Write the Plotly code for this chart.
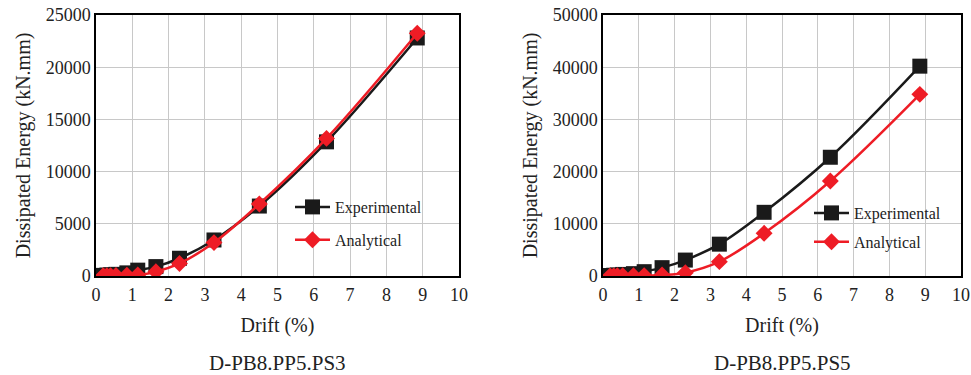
import plotly.graph_objects as go

drift = [0.2, 0.3, 0.4, 0.55, 0.85, 1.15, 1.65, 2.3, 3.25, 4.5, 6.35, 8.85]

exp_ps3 = [60, 90, 120, 160, 300, 560, 900, 1700, 3450, 6700, 12850, 22800]
ana_ps3 = [20, 30, 40, 50, 70, 100, 410, 1200, 3200, 6900, 13180, 23250]

exp_ps5 = [100, 150, 200, 300, 450, 830, 1600, 3050, 6100, 12200, 22750, 40200]
ana_ps5 = [20, 30, 40, 50, 60, 80, 200, 640, 2750, 8180, 18200, 34800]

x_ticks = list(range(0, 11))
titles = ["D-PB8.PP5.PS3", "D-PB8.PP5.PS5"]

FONT = "Times New Roman"
BLACK = "#1a1a1a"
RED = "#ee1c25"

fig = go.Figure()

def add_pair(xa, ya, exp, ana, legend):
    fig.add_trace(go.Scatter(
        x=drift, y=exp, xaxis=xa, yaxis=ya, name="Experimental", legend=legend,
        legendgroup=legend + "e",
        mode="lines+markers", line=dict(color=BLACK, width=2.5, shape="spline"),
        marker=dict(symbol="square", size=15, color=BLACK)))
    fig.add_trace(go.Scatter(
        x=drift, y=ana, xaxis=xa, yaxis=ya, name="Analytical", legend=legend,
        legendgroup=legend + "a",
        mode="lines+markers", line=dict(color=RED, width=2.5, shape="spline"),
        marker=dict(symbol="diamond", size=13, color=RED)))

add_pair("x", "y", exp_ps3, ana_ps3, "legend")
add_pair("x2", "y2", exp_ps5, ana_ps5, "legend2")

axis_common = dict(showline=True, linecolor="black", linewidth=1.5, mirror=True,
                   showgrid=True, gridcolor="#c8c8c8", gridwidth=1.2, zeroline=False,
                   ticks="", automargin=False, tickformat="d",
                   tickfont=dict(family=FONT, size=18, color="#222"),
                   title_font=dict(family=FONT, size=20, color="#222"))

fig.update_layout(
    width=971, height=375, margin=dict(l=0, r=0, t=0, b=0),
    font=dict(family=FONT),
    paper_bgcolor="white", plot_bgcolor="white", showlegend=True,
    xaxis=dict(domain=[96/971, 459/971], range=[0, 10], tickvals=x_ticks, anchor="y",
               title=dict(text="Drift (%)", standoff=14), ticklabelstandoff=2, **axis_common),
    yaxis=dict(domain=[1-276/375, 1-15/375], range=[0, 25000], dtick=5000, anchor="x",
               title=dict(text="Dissipated Energy (kN.mm)", standoff=10), **axis_common),
    xaxis2=dict(domain=[603/971, 961/971], range=[0, 10], tickvals=x_ticks, anchor="y2",
                title=dict(text="Drift (%)", standoff=14), ticklabelstandoff=2, **axis_common),
    yaxis2=dict(domain=[1-276/375, 1-15/375], range=[0, 50000], dtick=10000, anchor="x2",
                title=dict(text="Dissipated Energy (kN.mm)", standoff=10), **axis_common),
    legend=dict(x=290/971, y=1-190/375, xanchor="left", yanchor="top",
                bgcolor="rgba(255,255,255,0)", font=dict(family=FONT, size=16, color="#222"),
                tracegroupgap=9, itemwidth=35),
    legend2=dict(x=809/971, y=1-196/375, xanchor="left", yanchor="top",
                 bgcolor="rgba(255,255,255,0)", font=dict(family=FONT, size=16, color="#222"),
                 tracegroupgap=5, itemwidth=35),
)

for i, t in enumerate(titles):
    cx = (96 + 459) / 2 / 971 if i == 0 else (603 + 961) / 2 / 971
    fig.add_annotation(text=t, x=cx, y=1-363/375, xref="paper", yref="paper",
                       showarrow=False, font=dict(family=FONT, size=21, color="#222"),
                       xanchor="center", yanchor="middle")

fig.write_html("out.html")
